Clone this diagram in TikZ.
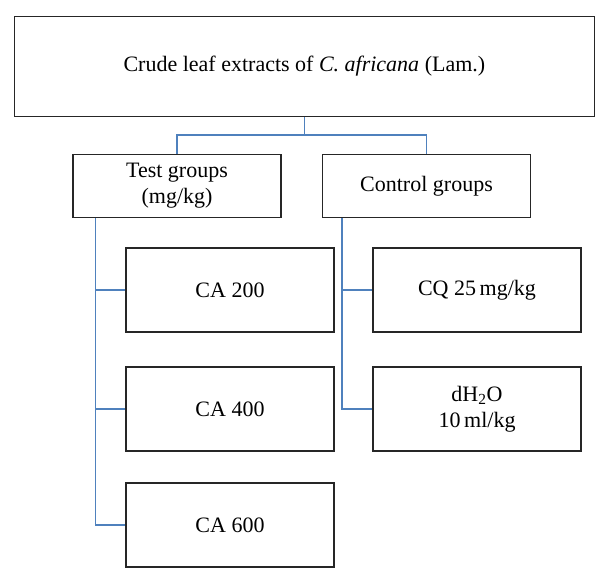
\documentclass[tikz,border=0pt]{standalone}
\usepackage{fontspec}
\setmainfont{Liberation Serif}
\usepackage{tikz}
\usetikzlibrary{positioning}
\definecolor{linkblue}{RGB}{79,129,189}

\begin{document}
\begin{tikzpicture}[
x=0.75pt, y=-0.75pt,
font=\fontsize{16.5}{19.5}\selectfont,
box/.style={draw=black!85, line width=0.9pt, align=center, inner sep=0pt},
bigbox/.style={box, minimum width=580*0.75pt, minimum height=100*0.75pt},
groupbox/.style={box, minimum width=208*0.75pt, minimum height=63*0.75pt},
dosebox/.style={box, minimum width=208*0.75pt, minimum height=84*0.75pt},
link/.style={draw=linkblue, line width=1pt}
]
    \useasboundingbox (0,0) rectangle (606,582);

    % main box and the two groups
    \node[bigbox] (extract) at (304.4,66.4) {Crude leaf extracts of \textit{C. africana} (Lam.)};
    \node[groupbox] (test) at (177,186) {Test groups\\(mg/kg)};
    \node[groupbox] (control) at (426.5,186) {Control groups};

    % doses
    \node[dosebox] (ca200) at (230,290) {CA 200};
    \node[dosebox] (ca400) at (230,409) {CA 400};
    \node[dosebox] (ca600) at (230,525) {CA 600};
    \node[dosebox] (cq) at (477,290) {CQ 25\,mg/kg};
    \node[dosebox] (water) at (477,409) {dH\textsubscript{2}O\\10\,ml/kg};

    \coordinate (split) at (304.4,135);
    \coordinate (testbus) at ([xshift=23*0.75pt]test.south west);
    \coordinate (controlbus) at ([xshift=20*0.75pt]control.south west);

    % connectors
    \draw[link] (extract.south) -- (split);
    \draw[link] (test.north) |- (split) -| (control.north);

    \draw[link] (testbus) |- (ca600.west);
    \draw[link] (testbus |- ca200.west) -- (ca200.west);
    \draw[link] (testbus |- ca400.west) -- (ca400.west);

    \draw[link] (controlbus) |- (water.west);
    \draw[link] (controlbus |- cq.west) -- (cq.west);

\end{tikzpicture}
\end{document}
